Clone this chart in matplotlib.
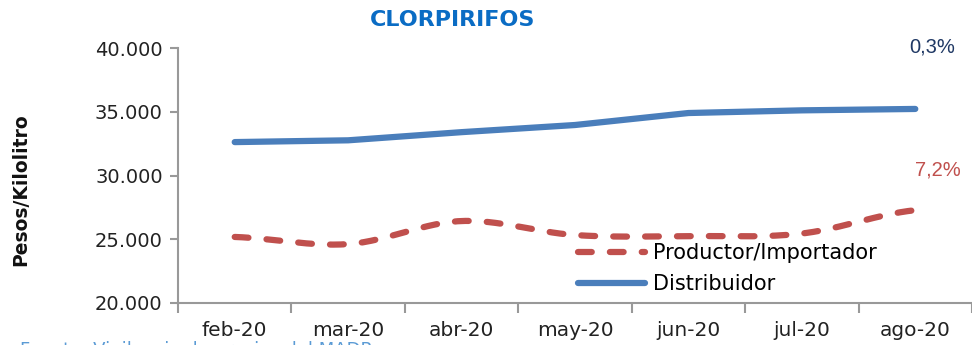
import numpy as np
import matplotlib.pyplot as plt
from matplotlib.lines import Line2D

# monthly prices, pesos per kilolitre
meses = ['feb-20', 'mar-20', 'abr-20', 'may-20', 'jun-20', 'jul-20', 'ago-20']
productor = [25180, 24620, 26430, 25330, 25250, 25450, 27280]
distribuidor = [32620, 32760, 33400, 33960, 34900, 35110, 35220]
var_productor = '7,2%'
var_distribuidor = '0,3%'


def suavizar(y, n=30):
    # Catmull-Rom through the points, similar to the spreadsheet smoothed line
    y = np.asarray(y, dtype=float)
    p = np.concatenate([[y[0]], y, [y[-1]]])
    xs, ys = [], []
    for i in range(len(y) - 1):
        t = np.linspace(0, 1, n, endpoint=False)
        p0, p1, p2, p3 = p[i], p[i + 1], p[i + 2], p[i + 3]
        seg = 0.5 * ((2 * p1) + (-p0 + p2) * t + (2 * p0 - 5 * p1 + 4 * p2 - p3) * t ** 2
                     + (-p0 + 3 * p1 - 3 * p2 + p3) * t ** 3)
        xs.append(i + t)
        ys.append(seg)
    xs.append([len(y) - 1])
    ys.append([y[-1]])
    return np.concatenate(xs), np.concatenate(ys)


plt.rcParams['font.family'] = ['DejaVu Sans']

fig = plt.figure(figsize=(9.72, 3.45), dpi=100)
ax = fig.add_axes([178 / 972, 42 / 345, 794 / 972, 255 / 345])

guion = (0, (2.2, 2.9))
x = np.arange(len(meses))
xs, ys = suavizar(productor)
ax.plot(xs, ys, color='#C0504D', lw=4.5, ls=guion, solid_capstyle='round',
        dash_capstyle='round')
ax.plot(x, distribuidor, color='#4A7EBB', lw=4.5, solid_capstyle='round')

ax.set_xlim(-0.5, len(meses) - 0.5)
ax.set_ylim(20000, 40000)
ax.set_yticks(range(20000, 40001, 5000))
ax.set_yticklabels([f'{v:,}'.replace(',', '.') for v in range(20000, 40001, 5000)])
ax.set_xticks(x)
ax.set_xticklabels(meses)
ax.set_xticks(np.arange(-0.5, len(meses), 1), minor=True)
ax.tick_params(axis='x', which='major', length=0, pad=13, labelsize=14.5, colors='#222222')
ax.tick_params(axis='x', which='minor', length=7, direction='out', color='#999999', width=1.5)
ax.tick_params(axis='y', length=6, direction='out', color='#999999', width=1.5,
               labelsize=14, labelcolor='#222222', pad=5)
for s in ['top', 'right']:
    ax.spines[s].set_visible(False)
for s in ['left', 'bottom']:
    ax.spines[s].set_color('#999999')
    ax.spines[s].set_linewidth(1.5)

fig.text(21 / 972, 0.45, 'Pesos/Kilolitro', fontsize=13.5, fontweight='bold', rotation=90,
         ha='center', va='center', color='#111111')

fig.text(453 / 972, 1 - 20 / 345, 'CLORPIRIFOS', color='#0A6CC4', fontsize=16,
         fontweight='bold', ha='center', va='center')

ax.annotate(var_distribuidor, (x[-1], 40000), xytext=(12.5, 1), textcoords='offset points',
            color='#1F3864', fontsize=14.5, ha='center', va='center',
            family=['Liberation Sans'])
ax.annotate(var_productor, (x[-1], 30400), xytext=(16, 0), textcoords='offset points',
            color='#C0504D', fontsize=14.5, ha='center', va='center',
            family=['Liberation Sans'])

handles = [Line2D([], [], color='#C0504D', lw=4.5, ls=guion, dash_capstyle='round'),
           Line2D([], [], color='#4A7EBB', lw=4.5, solid_capstyle='round')]
ax.legend(handles, ['Productor/Importador', 'Distribuidor'], loc='lower left',
          bbox_to_anchor=(0.48, -0.04), frameon=False, fontsize=15, handlelength=3.2,
          handletextpad=0.4, labelspacing=0.55)

fig.text(20 / 972, 1 - 341 / 345, 'Fuente: Vigilancia de precios del MADR', color='#5B9BD5',
         fontsize=13, ha='left', va='top')

fig.savefig('out.png', dpi=100)
